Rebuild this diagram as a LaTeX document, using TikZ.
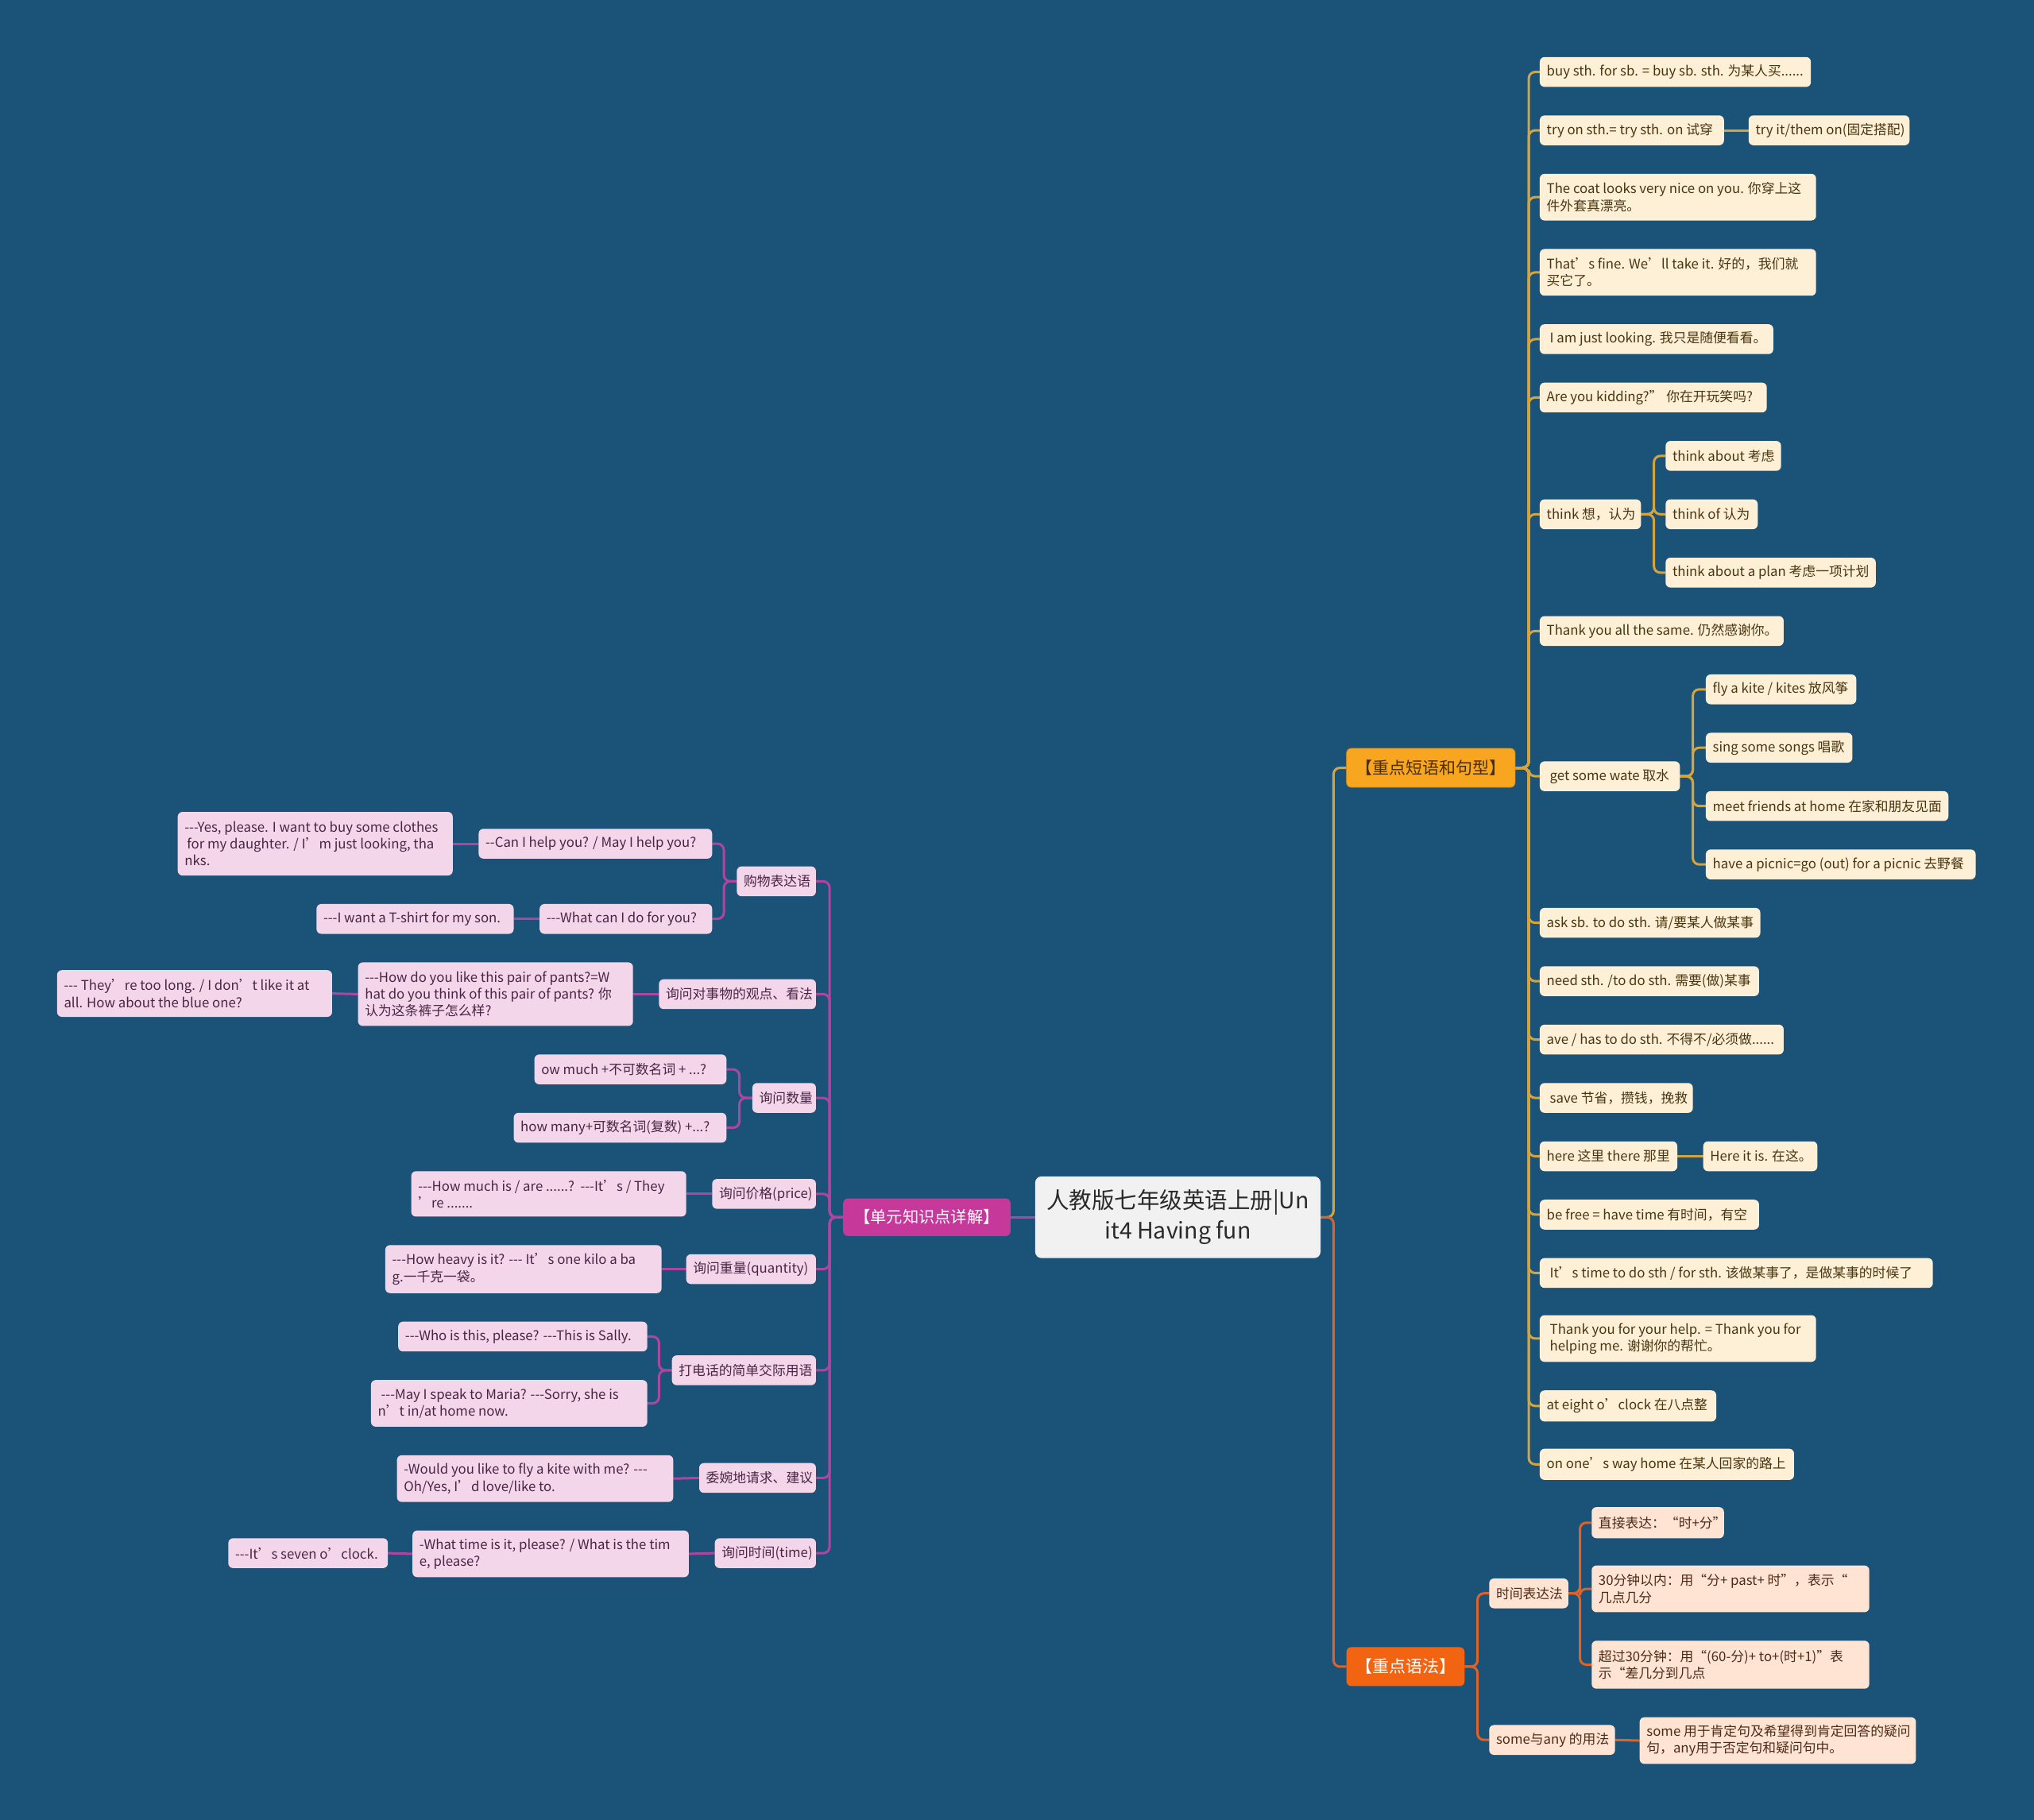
\documentclass[tikz,border=0pt]{standalone}
\usepackage{fontspec}
\setmainfont{Noto Sans CJK SC}
\newfontfamily\zhfont{Noto Sans CJK SC}
\usetikzlibrary{calc}
\definecolor{bg}{HTML}{1B5278}
\definecolor{goldline}{HTML}{D6A33C}
\definecolor{goldfill}{HTML}{FDF0D6}
\definecolor{goldtxt}{HTML}{4A3511}
\definecolor{orfill}{HTML}{F8A51F}
\definecolor{ortxt}{HTML}{4A2E05}
\definecolor{redfill}{HTML}{F26411}
\definecolor{redline}{HTML}{DC6329}
\definecolor{peach}{HTML}{FFE4D3}
\definecolor{peachtxt}{HTML}{4D2A16}
\definecolor{magfill}{HTML}{C6389A}
\definecolor{magline}{HTML}{AE45A0}
\definecolor{pinkfill}{HTML}{F4D6EB}
\definecolor{pinktxt}{HTML}{4A2445}
\definecolor{centerfill}{HTML}{F1F1F1}
\definecolor{centertxt}{HTML}{2A2A2A}
\pgfdeclarelayer{bgl}
\pgfdeclarelayer{background}
\pgfsetlayers{bgl,background,main}
\newcommand\mmbox[8]{%
  \pgfmathsetlengthmacro\mmw{(#5-#4)*1.63265}%
  \pgfmathsetlengthmacro\mmh{(#7-#6)*1.63265}%
  \node[#1, minimum width=\mmw, minimum height=\mmh, anchor=north west] (#3) at (#4,#6) {};%
  \node[#2, anchor=west] at ([xshift=8.5pt]#3.west) {#8};}
\newcommand\mmcbox[8]{%
  \pgfmathsetlengthmacro\mmw{(#5-#4)*1.63265}%
  \pgfmathsetlengthmacro\mmh{(#7-#6)*1.63265}%
  \node[#1, minimum width=\mmw, minimum height=\mmh, anchor=north west] (#3) at (#4,#6) {};%
  \node[#2] at (#3.center) {#8};}
\begin{document}
\begin{tikzpicture}[x=1.63265pt,y=-1.63265pt,
  box/.style={rectangle, rounded corners=6pt, inner sep=0pt, outer sep=0pt},
  gbox/.style={box, fill=goldfill},
  pbox/.style={box, fill=pinkfill},
  obox/.style={box, fill=peach},
  tx/.style={inner sep=0pt, align=left, font=\zhfont\fontsize{16.8}{21.2}\selectfont},
  gtxt/.style={tx, text=goldtxt},
  ptxt/.style={tx, text=pinktxt},
  otxt/.style={tx, text=peachtxt},
  gl/.style={draw=goldline, line width=3pt, rounded corners=8pt},
  pl/.style={draw=magline, line width=3pt, rounded corners=8pt},
  rl/.style={draw=redline, line width=3pt, rounded corners=8pt},
  btx/.style={inner sep=0pt, align=center, font=\zhfont\fontsize{21}{26}\selectfont}
]
\begin{pgfonlayer}{bgl}
\fill[bg] (0,0) rectangle (1568,1403);
\end{pgfonlayer}
\useasboundingbox (0,0) rectangle (1568,1403);

% center
\mmcbox{box, rounded corners=8pt, fill=centerfill}{inner sep=0pt, align=center, text=centertxt, font=\zhfont\fontsize{28.5}{37.5}\selectfont}{c}{798}{1018}{907}{970}{人教版七年级英语上册|Un\\it4 Having fun}

% branches
\mmcbox{box, fill=orfill, draw=orfill!85!black, line width=0.8pt}{btx, text=ortxt}{rb}{1038}{1168}{577}{607}{【重点短语和句型】}
\mmcbox{box, fill=redfill}{btx, text=white}{gb}{1038}{1129}{1270}{1300}{【重点语法】}
\mmcbox{box, fill=magfill}{btx, text=white, font=\zhfont\fontsize{20.3}{25}\selectfont}{lb}{650}{779}{924}{953}{【单元知识点详解】}

% right gold children
\mmbox{gbox}{gtxt}{g1}{1187}{1396}{44}{67}{buy sth. for sb. = buy sb. sth. 为某人买......}
\mmbox{gbox}{gtxt}{g2}{1187}{1329}{89}{112}{try on sth.= try sth. on 试穿}
\mmbox{gbox}{gtxt}{g2a}{1348}{1472}{89}{112}{try it/them on(固定搭配)}
\mmbox{gbox}{gtxt}{g3}{1187}{1400}{134}{170}{The coat looks very nice on you. 你穿上这\\件外套真漂亮。}
\mmbox{gbox}{gtxt}{g4}{1187}{1400}{192}{228}{That’s fine. We’ll take it. 好的，我们就\\买它了。}
\mmbox{gbox}{gtxt}{g5}{1187}{1367}{250}{273}{\hspace*{4pt}I am just looking. 我只是随便看看。}
\mmbox{gbox}{gtxt}{g6}{1187}{1362}{295}{318}{Are you kidding?” 你在开玩笑吗?}
\mmbox{gbox}{gtxt}{g7}{1187}{1265}{385}{408}{think 想，认为}
\mmbox{gbox}{gtxt}{g7a}{1284}{1373}{340}{363}{think about 考虑}
\mmbox{gbox}{gtxt}{g7b}{1284}{1355}{385}{408}{think of 认为}
\mmbox{gbox}{gtxt}{g7c}{1284}{1446}{430}{453}{think about a plan 考虑一项计划}
\mmbox{gbox}{gtxt}{g8}{1187}{1375}{475}{498}{Thank you all the same. 仍然感谢你。}
\mmbox{gbox}{gtxt}{g9}{1187}{1295}{587}{610}{\hspace*{4pt}get some wate 取水}
\mmbox{gbox}{gtxt}{g9a}{1315}{1431}{520}{543}{fly a kite / kites 放风筝}
\mmbox{gbox}{gtxt}{g9b}{1315}{1428}{565}{588}{sing some songs 唱歌}
\mmbox{gbox}{gtxt}{g9c}{1315}{1502}{610}{633}{meet friends at home 在家和朋友见面}
\mmbox{gbox}{gtxt}{g9d}{1315}{1523}{655}{678}{have a picnic=go (out) for a picnic 去野餐}
\mmbox{gbox}{gtxt}{g10}{1187}{1357}{700}{723}{ask sb. to do sth. 请/要某人做某事}
\mmbox{gbox}{gtxt}{g11}{1187}{1356}{745}{768}{need sth. /to do sth. 需要(做)某事}
\mmbox{gbox}{gtxt}{g12}{1187}{1375}{790}{813}{ave / has to do sth. 不得不/必须做......}
\mmbox{gbox}{gtxt}{g13}{1187}{1305}{835}{858}{\hspace*{4pt}save 节省，攒钱，挽救}
\mmbox{gbox}{gtxt}{g14}{1187}{1293}{880}{903}{here 这里 there 那里}
\mmbox{gbox}{gtxt}{g14a}{1313}{1401}{880}{903}{Here it is. 在这。}
\mmbox{gbox}{gtxt}{g15}{1187}{1356}{925}{948}{be free = have time 有时间，有空}
\mmbox{gbox}{gtxt}{g16}{1187}{1490}{970}{993}{\hspace*{4pt}It’s time to do sth / for sth. 该做某事了，是做某事的时候了}
\mmbox{gbox}{gtxt}{g17}{1187}{1400}{1014}{1050}{\hspace*{4pt}Thank you for your help. = Thank you for\\\hspace*{4pt}helping me. 谢谢你的帮忙。}
\mmbox{gbox}{gtxt}{g18}{1187}{1323}{1072}{1096}{at eight o’clock 在八点整}
\mmbox{gbox}{gtxt}{g19}{1187}{1383}{1117}{1141}{on one’s way home 在某人回家的路上}

% grammar
\mmbox{obox}{otxt}{t1}{1148}{1209}{1217}{1240}{时间表达法}
\mmbox{obox}{otxt}{t1a}{1227}{1329}{1162}{1186}{直接表达：“时+分”}
\mmbox{obox}{otxt}{t1b}{1227}{1441}{1207}{1243}{30分钟以内：用“分+ past+ 时”，表示“\\几点几分}
\mmbox{obox}{otxt}{t1c}{1227}{1441}{1265}{1302}{超过30分钟：用“(60-分)+ to+(时+1)”表\\示“差几分到几点}
\mmbox{obox}{otxt}{t2}{1148}{1245}{1330}{1353}{some与any 的用法}
\mmbox{obox}{otxt}{t2a}{1264}{1477}{1324}{1360}{some 用于肯定句及希望得到肯定回答的疑问\\句，any用于否定句和疑问句中。}

% left pink
\mmbox{pbox}{ptxt}{l1}{568}{629}{668}{691}{购物表达语}
\mmbox{pbox}{ptxt}{l1a}{369}{549}{639}{662}{--Can I help you? / May I help you?}
\mmbox{pbox}{ptxt}{l1a1}{137}{349}{626}{675}{---Yes, please. I want to buy some clothes\\\hspace*{3pt}for my daughter. / I’m just looking, tha\\nks.}
\mmbox{pbox}{ptxt}{l1b}{416}{549}{697}{720}{---What can I do for you?}
\mmbox{pbox}{ptxt}{l1b1}{244}{396}{697}{720}{---I want a T-shirt for my son.}
\mmbox{pbox}{ptxt}{l2}{508}{629}{755}{778}{询问对事物的观点、看法}
\mmbox{pbox}{ptxt}{l2a}{276}{488}{742}{791}{---How do you like this pair of pants?=W\\hat do you think of this pair of pants? 你\\认为这条裤子怎么样?}
\mmbox{pbox}{ptxt}{l2a1}{44}{256}{748}{784}{--- They’re too long. / I don’t like it at\\all. How about the blue one?}
\mmbox{pbox}{ptxt}{l3}{580}{629}{835}{858}{询问数量}
\mmbox{pbox}{ptxt}{l3a}{412}{560}{813}{836}{ow much +不可数名词 + ...?}
\mmbox{pbox}{ptxt}{l3b}{396}{560}{858}{881}{how many+可数名词(复数) +...?}
\mmbox{pbox}{ptxt}{l4}{549}{629}{909}{932}{询问价格(price)}
\mmbox{pbox}{ptxt}{l4a}{317}{529}{903}{938}{---How much is / are ......?\ \ ---It’s / They\\’re .......}
\mmbox{pbox}{ptxt}{l5}{529}{629}{967}{990}{询问重量(quantity)}
\mmbox{pbox}{ptxt}{l5a}{297}{510}{960}{997}{---How heavy is it? --- It’s one kilo a ba\\g.一千克一袋。}
\mmbox{pbox}{ptxt}{l6}{518}{629}{1045}{1068}{打电话的简单交际用语}
\mmbox{pbox}{ptxt}{l6a}{307}{499}{1019}{1042}{---Who is this, please? ---This is Sally.}
\mmbox{pbox}{ptxt}{l6b}{286}{499}{1064}{1100}{\hspace*{4pt}---May I speak to Maria? ---Sorry, she is\\n’t in/at home now.}
\mmbox{pbox}{ptxt}{l7}{539}{629}{1128}{1151}{委婉地请求、建议}
\mmbox{pbox}{ptxt}{l7a}{306}{519}{1122}{1158}{-Would you like to fly a kite with me? ---\\Oh/Yes, I’d love/like to.}
\mmbox{pbox}{ptxt}{l8}{551}{629}{1186}{1209}{询问时间(time)}
\mmbox{pbox}{ptxt}{l8a}{318}{531}{1180}{1216}{-What time is it, please? / What is the tim\\e, please?}
\mmbox{pbox}{ptxt}{l8a1}{176}{299}{1186}{1209}{---It’s seven o’clock.}

\begin{pgfonlayer}{background}
% center to branches
\draw[gl] (c.east) -- ++(10,0) |- (rb.west);
\draw[rl] (c.east) -- ++(10,0) |- (gb.west);
\draw[pl] (c.west) -- (lb.east);
% gold
\foreach \k in {g1,g2,g3,g4,g5,g6,g7,g8,g9,g10,g11,g12,g13,g14,g15,g16,g17,g18,g19}
  \draw[gl] (rb.east) -- ++(10.5,0) |- (\k.west);
\draw[gl] (g2.east) -- (g2a.west);
\foreach \k in {g7a,g7b,g7c} \draw[gl] (g7.east) -- ++(10,0) |- (\k.west);
\foreach \k in {g9a,g9b,g9c,g9d} \draw[gl] (g9.east) -- ++(10,0) |- (\k.west);
\draw[gl] (g14.east) -- (g14a.west);
% grammar
\foreach \k in {t1,t2} \draw[rl] (gb.east) -- ++(10,0) |- (\k.west);
\foreach \k in {t1a,t1b,t1c} \draw[rl] (t1.east) -- ++(9,0) |- (\k.west);
\draw[rl] (t2.east) -- (t2a.west);
% left
\foreach \k in {l1,l2,l3,l4,l5,l6,l7,l8}
  \draw[pl] (lb.west) -- ++(-10.5,0) |- (\k.east);
\foreach \k in {l1a,l1b} \draw[pl] (l1.west) -- ++(-10,0) |- (\k.east);
\draw[pl] (l1a.west) -- (l1a1.east);
\draw[pl] (l1b.west) -- (l1b1.east);
\draw[pl] (l2.west) -- (l2a.east);
\draw[pl] (l2a.west) -- (l2a1.east);
\foreach \k in {l3a,l3b} \draw[pl] (l3.west) -- ++(-10,0) |- (\k.east);
\draw[pl] (l4.west) -- (l4a.east);
\draw[pl] (l5.west) -- (l5a.east);
\foreach \k in {l6a,l6b} \draw[pl] (l6.west) -- ++(-10,0) |- (\k.east);
\draw[pl] (l7.west) -- (l7a.east);
\draw[pl] (l8.west) -- (l8a.east);
\draw[pl] (l8a.west) -- (l8a1.east);
\end{pgfonlayer}
\end{tikzpicture}
\end{document}
